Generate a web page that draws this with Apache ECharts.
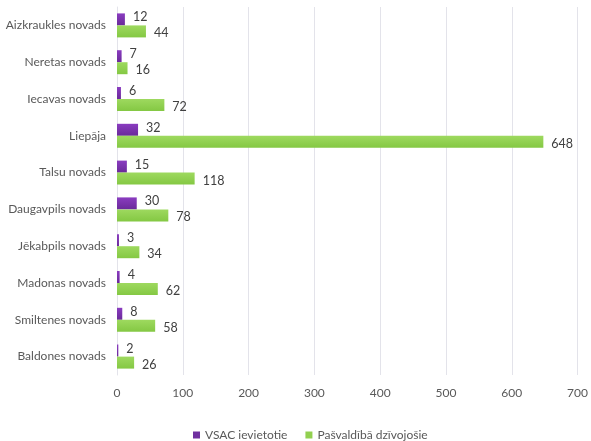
<!DOCTYPE html>
<html><head><meta charset="utf-8">
<script src="https://cdn.jsdelivr.net/npm/echarts@6/dist/echarts.min.js"></script>
<style>html,body{margin:0;padding:0;background:#fff}#c{width:591px;height:441px}</style>
</head><body><div id="c"></div>
<script>
var categories = ["Aizkraukles novads","Neretas novads","Iecavas novads","Liepāja","Talsu novads","Daugavpils novads","Jēkabpils novads","Madonas novads","Smiltenes novads","Baldones novads"];
var vsac = [12,7,6,32,15,30,3,4,8,2];
var pasvaldiba = [44,16,72,648,118,78,34,62,58,26];
var xTicks = [0,100,200,300,400,500,600,700];
var seriesNames = ["VSAC ievietotie","Pašvaldībā dzīvojošie"];
var font = "Lato";
var chart = echarts.init(document.getElementById('c'));
chart.setOption({
  animation:false,
  textStyle:{fontFamily:font},
  grid:{left:117,right:9,top:7,bottom:66,containLabel:false},
  legend:{top:424,left:188,itemWidth:7,itemHeight:7,itemGap:18,icon:'rect',
    textStyle:{fontFamily:font,fontSize:12,color:'#595959'},
    data:[{name:seriesNames[0],itemStyle:{color:'#7030a0'}},{name:seriesNames[1],itemStyle:{color:'#92d050'}}]},
  xAxis:{type:'value',min:0,max:700,interval:100,
    axisLine:{show:false},axisTick:{show:false},
    axisLabel:{color:'#595959',fontSize:12,fontFamily:font,margin:12},
    splitLine:{lineStyle:{color:'#e3e3ea',width:1}}},
  yAxis:{type:'category',inverse:true,data:categories,
    axisLine:{show:true,lineStyle:{color:'#e3e3ea'}},axisTick:{show:false},
    axisLabel:{color:'#595959',fontSize:12,fontFamily:font,margin:11}},
  series:[
    {name:seriesNames[0],type:'bar',data:vsac,barWidth:12,barGap:'0%',
     itemStyle:{color:new echarts.graphic.LinearGradient(0,0,0,1,[{offset:0,color:'#8a3cc0'},{offset:1,color:'#6a2a9a'}])},
     label:{show:true,position:'right',distance:8,offset:[0,-2],color:'#404040',fontSize:12.5,fontFamily:font}},
    {name:seriesNames[1],type:'bar',data:pasvaldiba,barWidth:12,
     itemStyle:{color:new echarts.graphic.LinearGradient(0,0,0,1,[{offset:0,color:'#9ed95f'},{offset:1,color:'#84c843'}])},
     label:{show:true,position:'right',distance:8,offset:[0,2],color:'#404040',fontSize:12.5,fontFamily:font}}
  ]
});
</script></body></html>
